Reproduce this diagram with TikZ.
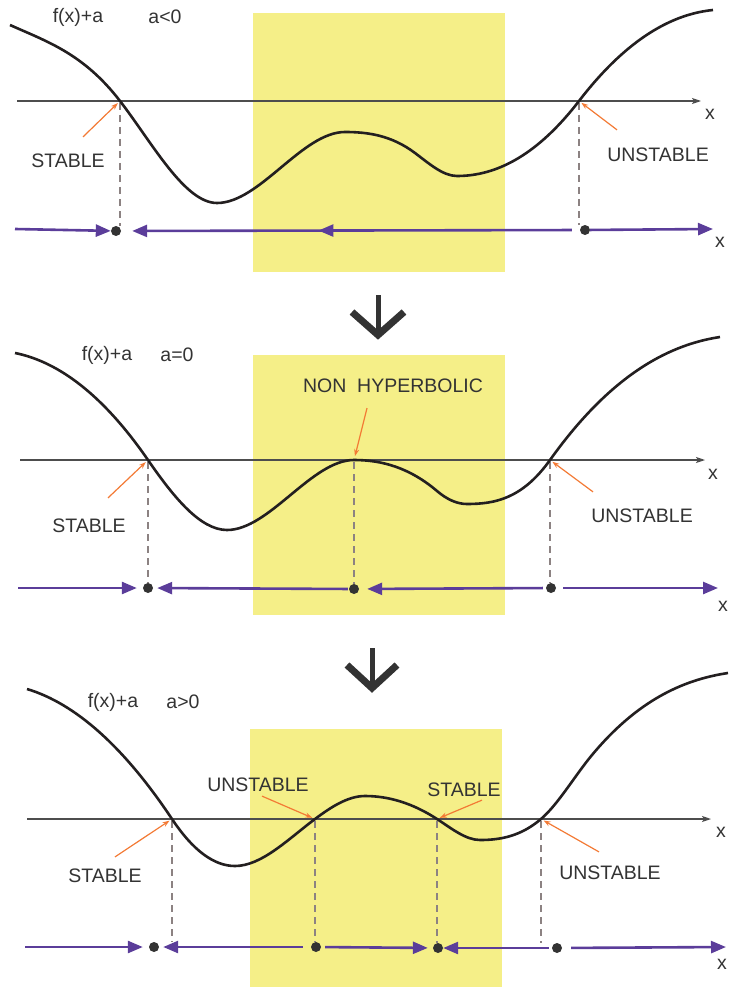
\documentclass[tikz,border=0pt]{standalone}
\usepackage{fontspec}
\setmainfont{Liberation Sans}
\usetikzlibrary{arrows.meta,calc,decorations.markings}
\definecolor{ink}{HTML}{231F20}
\definecolor{muted}{HTML}{4D4D4D}
\definecolor{txt}{HTML}{333333}
\definecolor{bandfill}{HTML}{F5EF88}
\definecolor{flowc}{HTML}{5B3D9A}
\definecolor{pointc}{HTML}{F37A35}
\definecolor{guidec}{HTML}{8C8282}
\tikzset{
  band/.style={fill=bandfill},
  curve/.style={draw=ink,line width=2.6pt},
  axisline/.style={draw=muted,line width=1.2pt,-{Stealth[length=9pt,width=6pt,inset=2pt]}},
  flow/.style={draw=flowc,line width=2.6pt,-{Triangle[length=15pt,width=12pt]}},
  midflow/.style={flow,postaction={decorate},decoration={markings,mark=at position #1 with {\arrow[color=flowc]{Triangle[length=15pt,width=12pt]}}}},
  dot/.style={circle,fill=txt,minimum size=10pt,inner sep=0pt},
  guide/.style={draw=guidec,line width=1.1pt,dash pattern=on 7pt off 5pt,shorten <=2pt},
  pointer/.style={draw=pointc,line width=1.2pt,-{Stealth[length=7pt,width=5pt]},shorten >=3pt},
  lab/.style={font=\fontsize{19.5}{22}\selectfont,text=txt,inner sep=0pt},
  chev/.style={draw=txt,line width=7pt,miter limit=4},
}
\begin{document}
\begin{tikzpicture}[x=1pt,y=-1pt]
  \useasboundingbox (0,0) rectangle (728,987);
  % a<0
  \fill[band] (253,13) rectangle (505,272);
  \draw[axisline] (17,101) -- (701,101);
  \node[lab] (ax1) at (710,114) {x};
  \coordinate (z1a) at (120,101);
  \coordinate (z1b) at (579,101);
  \node[dot] (s1) at (116,231) {};
  \node[dot] (u1) at (585,230) {};
  \draw[guide] (z1a) -- (z1a |- s1.north);
  \draw[guide] (z1b) -- (z1b |- u1.north);
  \draw[curve] (10,25) .. controls (46.7,41.5) and (83.3,53.3) .. (z1a)
    .. controls (152.3,143) and (184.7,203) .. (217,203)
    .. controls (259.7,203) and (302.3,132) .. (345,132)
    .. controls (368.3,132) and (391.7,135.5) .. (415,153)
    .. controls (429,163.5) and (443,176) .. (457,176)
    .. controls (497.7,176) and (538.3,153.9) .. (z1b)
    .. controls (623.7,42.9) and (668.3,14.5) .. (713,10);
  \node[lab] (fx1) at (78,17) {f(x)+a};
  \node[lab] (cond1) at (165,17) {a<0};
  \node[lab] (st1) at (68,161) {STABLE};
  \node[lab] (un1) at (658,155) {UNSTABLE};
  \draw[pointer] ([shift={(15,-17)}]st1.north) -- (z1a);
  \draw[pointer] ([shift={(10,-18)}]un1.north west) -- (z1b);
  \coordinate (l1) at (15,229);
  \coordinate (r1) at (713,229);
  \draw[flow] (l1) -- (s1);
  \draw[midflow=.57,shorten <=8pt,shorten >=11pt] (u1) -- (s1);
  \draw[flow] (u1) -- (r1);
  \node[lab] (px1) at (720,242) {x};
  % arrow down
  \draw[chev] (352,312) -- (378,335) -- (404,312);
  \draw[chev,line width=5pt] (378,295) -- (378,334);
  % a=0
  \fill[band] (253,355) rectangle (505,615);
  \draw[axisline] (20,460) -- (705,460);
  \node[lab] (ax2) at (713,474) {x};
  \coordinate (z2a) at (148,460);
  \coordinate (z2b) at (354,460);
  \coordinate (z2c) at (550,460);
  \node[dot] (s2) at (148,588) {};
  \node[dot] (n2) at (354,589) {};
  \node[dot] (u2) at (551,588) {};
  \draw[guide] (z2a) -- (z2a |- s2.north);
  \draw[guide] (z2b) -- (z2b |- n2.north);
  \draw[guide] (z2c) -- (z2c |- u2.north);
  \draw[curve] (15,353) .. controls (59.3,361.9) and (103.7,395.8) .. (z2a)
    .. controls (174.3,498.2) and (200.7,530) .. (227,530)
    .. controls (269.3,530) and (311.7,460) .. (z2b)
    .. controls (381.7,460) and (409.3,467.5) .. (437,491)
    .. controls (447,499.5) and (457,504) .. (467,504)
    .. controls (494.7,504) and (522.3,498.8) .. (z2c)
    .. controls (606.7,380.6) and (663.3,345.5) .. (720,337);
  \node[lab] (fx2) at (107,355) {f(x)+a};
  \node[lab] (cond2) at (177,355) {a=0};
  \node[lab] (st2) at (89,526) {STABLE};
  \node[lab] (nh2) at (393,386) {NON\ \ HYPERBOLIC};
  \node[lab] (un2) at (642,516) {UNSTABLE};
  \draw[pointer] ([shift={(19,-21)}]st2.north) -- (z2a);
  \draw[pointer,shorten >=4pt] ([shift={(-26,15)}]nh2.south) -- (z2b);
  \draw[pointer] ([shift={(2,-17)}]un2.north west) -- (z2c);
  \coordinate (l2) at (18,588);
  \coordinate (r2) at (718,588);
  \draw[flow,shorten >=6pt] (l2) -- (s2);
  \draw[flow,shorten <=1pt,shorten >=4pt] (n2) -- (s2);
  \draw[flow,shorten <=3pt,shorten >=8pt] (u2) -- (n2);
  \draw[flow,shorten <=7pt] (u2) -- (r2);
  \node[lab] (px2) at (723,606) {x};
  % arrow down
  \draw[chev] (347,665) -- (372,688) -- (397,665);
  \draw[chev,line width=5pt] (372,648) -- (372,687);
  % a>0
  \fill[band] (250,729) rectangle (502,987);
  \draw[axisline] (27,819) -- (711,819);
  \node[lab] (ax3) at (721,832) {x};
  \coordinate (z3a) at (172,819);
  \coordinate (z3b) at (315,819);
  \coordinate (z3c) at (437,819);
  \coordinate (z3d) at (541,819);
  \node[dot] (s3a) at (154,947) {};
  \node[dot] (u3a) at (316,947) {};
  \node[dot] (s3b) at (438,948) {};
  \node[dot] (u3b) at (557,948) {};
  \draw[guide] (z3a) -- (z3a |- s3a.north);
  \draw[guide] (z3b) -- (z3b |- u3a.north);
  \draw[guide] (z3c) -- (z3c |- s3b.north);
  \draw[guide] (z3d) -- (z3d |- u3b.north);
  \draw[curve] (27,689) .. controls (75.3,703.5) and (123.7,746.5) .. (z3a)
    .. controls (193,850.5) and (214,866) .. (235,866)
    .. controls (261.7,866) and (288.3,839) .. (z3b)
    .. controls (331.7,806.5) and (348.3,796) .. (365,796)
    .. controls (389,796) and (413,803.4) .. (z3c)
    .. controls (451.3,828.3) and (465.7,840) .. (480,840)
    .. controls (500.3,840) and (520.7,836.3) .. (z3d)
    .. controls (558,804.5) and (575,775.4) .. (592,755)
    .. controls (637.3,700.6) and (682.7,679.8) .. (728,673);
  \node[lab] (fx3) at (113,702) {f(x)+a};
  \node[lab] (cond3) at (183,702) {a>0};
  \node[lab] (st3a) at (105,876) {STABLE};
  \node[lab] (un3a) at (258,785) {UNSTABLE};
  \node[lab] (st3b) at (464,790) {STABLE};
  \node[lab] (un3b) at (610,873) {UNSTABLE};
  \draw[pointer] ([shift={(10,-12)}]st3a.north) -- (z3a);
  \draw[pointer] ([shift={(4,4)}]un3a.south) -- (z3b);
  \draw[pointer] ([shift={(18,3)}]st3b.south) -- (z3c);
  \draw[pointer] ([shift={(-11,-14)}]un3b.north) -- (z3d);
  \coordinate (l3) at (25,947);
  \coordinate (r3) at (726,947);
  \draw[flow,shorten >=6pt] (l3) -- (s3a);
  \draw[flow,shorten <=8pt,shorten >=4pt] (u3a) -- (s3a);
  \draw[flow,shorten <=4pt,shorten >=5pt] (u3a) -- (s3b);
  \draw[flow,shorten <=3pt] (u3b) -- (s3b);
  \draw[flow,shorten <=9pt] (u3b) -- (r3);
  \node[lab] (px3) at (722,964) {x};
\end{tikzpicture}
\end{document}
